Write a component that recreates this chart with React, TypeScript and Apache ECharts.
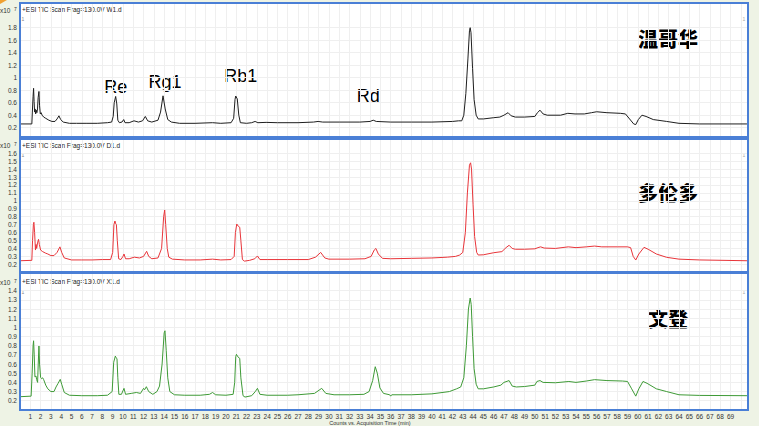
import React, { useEffect, useRef } from "react";
import * as echarts from "echarts";

// ---- data (time in min, counts x10^7) ----
const W1: [number, number][] = [
  [0, 0.26], [1.15, 0.26], [1.2, 0.45], [1.27, 0.7], [1.32, 0.83], [1.37, 0.62], [1.42, 0.45], [1.47, 0.5], [1.52, 0.42], [1.58, 0.48], [1.64, 0.44], [1.7, 0.5], [1.76, 0.68], [1.84, 0.78], [1.9, 0.55], [1.97, 0.42], [2.05, 0.44], [2.15, 0.4], [2.3, 0.37], [2.5, 0.35], [2.8, 0.32], [3.1, 0.3], [3.4, 0.3], [3.6, 0.34], [3.78, 0.39], [3.95, 0.33], [4.2, 0.29], [4.8, 0.27], [5.5, 0.27], [6.5, 0.27], [7.5, 0.27], [8.5, 0.28], [8.9, 0.29], [9.05, 0.38], [9.15, 0.6], [9.29, 0.7], [9.4, 0.58], [9.5, 0.32], [9.65, 0.28], [9.9, 0.29], [10.07, 0.33], [10.2, 0.28], [10.6, 0.28], [11.07, 0.31], [11.5, 0.29], [11.9, 0.31], [12.17, 0.38], [12.4, 0.31], [12.8, 0.29], [13.4, 0.32], [13.65, 0.45], [13.89, 0.71], [14.1, 0.5], [14.35, 0.33], [14.7, 0.29], [15.5, 0.27], [17, 0.27], [18.7, 0.28], [19.5, 0.27], [20.5, 0.28], [20.75, 0.35], [20.88, 0.65], [20.95, 0.707], [21.1, 0.66], [21.25, 0.4], [21.4, 0.28], [22, 0.27], [22.5, 0.28], [22.83, 0.3], [23.1, 0.28], [23.9, 0.285], [25, 0.28], [27, 0.28], [28.5, 0.29], [28.95, 0.3], [29.4, 0.29], [31, 0.29], [33, 0.29], [34.0, 0.3], [34.3, 0.32], [34.6, 0.3], [36, 0.29], [38, 0.29], [40, 0.29], [42, 0.3], [42.6, 0.31], [42.9, 0.31], [43.1, 0.4], [43.3, 0.75], [43.5, 1.3], [43.65, 1.75], [43.72, 1.8], [43.8, 1.72], [43.95, 1.15], [44.1, 0.65], [44.3, 0.4], [44.5, 0.34], [45, 0.34], [46, 0.36], [46.6, 0.37], [47.0, 0.4], [47.4, 0.44], [47.7, 0.39], [48.1, 0.37], [49, 0.37], [50, 0.38], [50.25, 0.44], [50.5, 0.48], [50.8, 0.42], [51.2, 0.4], [52.5, 0.4], [53.2, 0.43], [53.9, 0.42], [54.8, 0.42], [55.5, 0.44], [56, 0.455], [57, 0.44], [58.3, 0.43], [58.8, 0.42], [59.2, 0.34], [59.6, 0.26], [59.8, 0.25], [60.05, 0.33], [60.4, 0.4], [60.8, 0.38], [61.5, 0.33], [62.8, 0.3], [64, 0.27], [66, 0.26], [70.6, 0.26],
];

const D1: [number, number][] = [
  [0, 0.245], [1.15, 0.25], [1.22, 0.5], [1.3, 0.7], [1.35, 0.73], [1.42, 0.6], [1.5, 0.38], [1.56, 0.45], [1.62, 0.4], [1.7, 0.47], [1.8, 0.515], [1.88, 0.45], [2.0, 0.38], [2.2, 0.36], [2.5, 0.34], [2.7, 0.33], [3.0, 0.31], [3.3, 0.31], [3.6, 0.35], [3.88, 0.42], [4.05, 0.35], [4.3, 0.28], [5, 0.255], [6, 0.255], [7, 0.255], [8, 0.26], [8.8, 0.26], [9.0, 0.35], [9.12, 0.7], [9.22, 0.746], [9.3, 0.71], [9.36, 0.7], [9.45, 0.5], [9.58, 0.27], [9.8, 0.26], [10.0, 0.3], [10.1, 0.33], [10.25, 0.27], [10.6, 0.27], [11.1, 0.29], [11.6, 0.28], [12.0, 0.3], [12.3, 0.364], [12.5, 0.3], [12.8, 0.27], [13.4, 0.28], [13.75, 0.4], [13.95, 0.8], [14.05, 0.885], [14.15, 0.7], [14.3, 0.4], [14.45, 0.29], [14.8, 0.265], [16, 0.255], [17.5, 0.255], [18.7, 0.265], [19.5, 0.255], [20.5, 0.26], [20.8, 0.3], [20.92, 0.6], [21.05, 0.708], [21.2, 0.68], [21.34, 0.667], [21.45, 0.5], [21.6, 0.26], [21.8, 0.24], [22.3, 0.25], [22.8, 0.27], [23.06, 0.305], [23.3, 0.26], [24, 0.26], [26, 0.26], [28, 0.26], [28.7, 0.29], [29.2, 0.35], [29.6, 0.28], [30, 0.265], [32, 0.265], [33.5, 0.27], [34.1, 0.3], [34.4, 0.38], [34.56, 0.4], [34.8, 0.33], [35.2, 0.275], [36, 0.27], [38, 0.275], [40, 0.28], [41.5, 0.29], [42.3, 0.3], [42.7, 0.317], [43.0, 0.35], [43.25, 0.6], [43.45, 1.1], [43.65, 1.45], [43.76, 1.48], [43.85, 1.4], [44.0, 0.95], [44.15, 0.55], [44.35, 0.35], [44.5, 0.317], [45, 0.32], [46, 0.346], [46.8, 0.36], [47.2, 0.41], [47.5, 0.44], [47.8, 0.4], [48.1, 0.39], [49, 0.39], [50, 0.395], [50.3, 0.41], [50.56, 0.42], [50.9, 0.405], [52, 0.4], [53.25, 0.42], [54, 0.41], [55, 0.42], [55.8, 0.43], [56.5, 0.42], [58, 0.42], [59.0, 0.42], [59.3, 0.41], [59.55, 0.3], [59.8, 0.254], [60.1, 0.33], [60.6, 0.414], [61, 0.39], [61.8, 0.33], [62.8, 0.288], [64, 0.265], [66, 0.255], [70.6, 0.245],
];

const X1: [number, number][] = [
  [0, 0.244], [1.08, 0.25], [1.18, 0.5], [1.27, 0.8], [1.32, 0.854], [1.38, 0.7], [1.45, 0.46], [1.55, 0.47], [1.62, 0.43], [1.71, 0.4], [1.77, 0.6], [1.84, 0.797], [1.9, 0.6], [2.0, 0.455], [2.1, 0.44], [2.2, 0.45], [2.3, 0.43], [2.5, 0.37], [2.7, 0.33], [3.0, 0.3], [3.3, 0.3], [3.5, 0.35], [3.7, 0.39], [3.91, 0.433], [4.05, 0.38], [4.3, 0.29], [4.8, 0.26], [6, 0.255], [7.5, 0.255], [8.5, 0.26], [8.95, 0.3], [9.1, 0.62], [9.26, 0.687], [9.32, 0.67], [9.42, 0.66], [9.5, 0.45], [9.6, 0.27], [9.85, 0.27], [10.1, 0.335], [10.25, 0.27], [10.8, 0.28], [11.3, 0.29], [11.7, 0.28], [12.0, 0.335], [12.1, 0.32], [12.27, 0.353], [12.5, 0.3], [12.9, 0.27], [13.3, 0.3], [13.55, 0.36], [13.8, 0.6], [14.0, 0.94], [14.08, 0.963], [14.2, 0.75], [14.35, 0.45], [14.55, 0.3], [15, 0.265], [16, 0.26], [17.5, 0.26], [18.4, 0.27], [18.7, 0.29], [19, 0.265], [20, 0.26], [20.7, 0.27], [20.85, 0.4], [20.95, 0.68], [21.02, 0.706], [21.15, 0.68], [21.34, 0.662], [21.45, 0.45], [21.66, 0.255], [21.85, 0.24], [22.5, 0.255], [22.85, 0.3], [23.06, 0.335], [23.3, 0.27], [24, 0.26], [26, 0.26], [27, 0.265], [28.6, 0.28], [29.3, 0.335], [29.7, 0.28], [30.5, 0.265], [32, 0.265], [33.4, 0.27], [33.9, 0.3], [34.25, 0.42], [34.5, 0.571], [34.7, 0.5], [34.95, 0.34], [35.3, 0.28], [35.9, 0.265], [36, 0.25], [36.1, 0.265], [38, 0.265], [40, 0.275], [41.7, 0.3], [42.4, 0.33], [42.8, 0.35], [43.1, 0.45], [43.35, 0.8], [43.55, 1.2], [43.72, 1.32], [43.82, 1.25], [43.95, 0.9], [44.1, 0.55], [44.3, 0.38], [44.5, 0.33], [45, 0.33], [46, 0.35], [46.7, 0.37], [47.0, 0.4], [47.5, 0.42], [47.8, 0.36], [48.2, 0.35], [49, 0.355], [50, 0.37], [50.2, 0.41], [50.5, 0.42], [50.8, 0.4], [52, 0.396], [53.3, 0.41], [54, 0.4], [55, 0.415], [55.8, 0.43], [57, 0.42], [58.5, 0.415], [59, 0.41], [59.4, 0.33], [59.8, 0.25], [60.1, 0.33], [60.5, 0.41], [60.9, 0.39], [61.8, 0.33], [62.8, 0.3], [64, 0.265], [66, 0.258], [70.6, 0.255],
];

const yTicks1 = [0.2, 0.4, 0.6, 0.8, 1, 1.2, 1.4, 1.6, 1.8];
const yTicks2 = [0.2, 0.3, 0.4, 0.5, 0.6, 0.7, 0.8, 0.9, 1, 1.1, 1.2, 1.3, 1.4, 1.5, 1.6];
const yTicks3 = [0.2, 0.3, 0.4, 0.5, 0.6, 0.7, 0.8, 0.9, 1, 1.1, 1.2, 1.3, 1.4];
const yRanges: [number, number][] = [[0.051, 2.195], [0.103, 1.78], [0.099, 1.593]];
const headers = ["+ESI TIC Scan Frag=130.0V W1.d", "+ESI TIC Scan Frag=130.0V D1.d", "+ESI TIC Scan Frag=130.0V X1.d"];
const sampleNames = ["温哥华", "多伦多", "文登"];
const peakNames = ["Re", "Rg1", "Rb1", "Rd"];
const colors = ["#1e1e1e", "#e8353a", "#3e9a36"];
const xTitle = "Counts vs. Acquisition Time (min)";

const FONT = "'Liberation Sans', Arial, sans-serif";

export default function App() {
  const ref = useRef<HTMLDivElement>(null);
  useEffect(() => {
    if (!ref.current) return;
    const chart = echarts.init(ref.current, undefined, { renderer: "svg" });
    const boxes = [
      { left: 20, top: 3, width: 728, height: 134 },
      { left: 20, top: 139, width: 728, height: 133 },
      { left: 20, top: 273, width: 728, height: 137 },
    ];
    const grids = boxes.map((g) => ({ ...g, show: true, borderWidth: 0, backgroundColor: "#ffffff" }));
    const yTickSets = [yTicks1, yTicks2, yTicks3];
    const xAxes = [0, 1, 2].map((i) => ({
      type: "value",
      gridIndex: i,
      min: 0,
      max: 70.7,
      interval: 1,
      axisLine: { show: false },
      axisTick: { show: false },
      splitLine: { show: true, lineStyle: { color: "#efefef", width: 1 } },
      axisLabel: {
        show: i === 2,
        fontSize: 6.5,
        color: "#333",
        fontFamily: FONT,
        margin: 3,
        showMinLabel: false,
        showMaxLabel: false,
        formatter: (v: number) => (v >= 1 && v <= 69 ? String(v) : ""),
      },
    }));
    const yAxes = [0, 1, 2].map((i) => ({
      type: "value",
      gridIndex: i,
      min: yRanges[i][0],
      max: yRanges[i][1],
      axisLine: { show: false },
      axisTick: { show: false, customValues: yTickSets[i] },
      splitLine: { show: true, lineStyle: { color: "#efefef", width: 1 } },
      axisLabel: {
        customValues: yTickSets[i],
        fontSize: 6.5,
        color: "#333",
        fontFamily: FONT,
        margin: 3,
        formatter: (v: number) => String(Math.round(v * 10) / 10),
      },
    }));
    const seriesData = [W1, D1, X1];
    const series = seriesData.map((d, i) => ({
      type: "line",
      xAxisIndex: i,
      yAxisIndex: i,
      data: d,
      showSymbol: false,
      symbol: "none",
      lineStyle: { color: colors[i], width: 1 },
      itemStyle: { color: colors[i] },
    }));

    const headerY = [9, 145, 281.5];
    const sampleY = [38.3, 192.2, 318];
    const expY = [10, 145.7, 282.3];
    const oneY = [19, 155, 291.5];
    const graphic: any[] = [
      { type: "polygon", shape: { points: [[0, 0], [7, 0], [0, 4]] }, style: { fill: "#f0a030" } },
    ];
    boxes.forEach((b) => {
      graphic.push({
        type: "rect", z: 100, silent: true,
        shape: { x: b.left, y: b.top, width: b.width, height: b.height },
        style: { fill: "none", stroke: "#4a7fd6", lineWidth: 2 },
      });
    });
    for (let i = 0; i < 3; i++) {
      graphic.push({
        type: "text", x: 22, y: headerY[i],
        style: { text: headers[i], fontSize: 6.5, fill: "#222", fontFamily: FONT, verticalAlign: "middle", align: "left" },
      });
      graphic.push({
        type: "text", x: 668, y: sampleY[i],
        style: { text: sampleNames[i], fontSize: 20, fontWeight: 900, fill: "#000", fontFamily: "'Noto Sans CJK SC', sans-serif", verticalAlign: "middle", align: "center" },
      });
      graphic.push({
        type: "text", x: 0, y: expY[i],
        style: { text: "x10", fontSize: 6.5, fill: "#333", fontFamily: FONT, verticalAlign: "middle", align: "left" },
      });
      graphic.push({
        type: "text", x: 14, y: expY[i] - 1.5,
        style: { text: "7", fontSize: 5, fill: "#333", fontFamily: FONT, verticalAlign: "middle", align: "left" },
      });
      graphic.push({
        type: "text", x: 23, y: oneY[i],
        style: { text: "1", fontSize: 5, fill: "#888", fontFamily: FONT, verticalAlign: "middle", align: "center" },
      });
      graphic.push({
        type: "text", x: 744, y: oneY[i],
        style: { text: "1", fontSize: 5, fill: "#aaa", fontFamily: FONT, verticalAlign: "middle", align: "center" },
      });
    }
    const peakPos = [[115.8, 87.3], [165, 81.7], [240.8, 75.5], [368.3, 95.8]];
    peakNames.forEach((n, k) => {
      graphic.push({
        type: "text", x: peakPos[k][0], y: peakPos[k][1],
        style: { text: n, fontSize: 18, fill: "#000", fontFamily: FONT, verticalAlign: "middle", align: "center" },
      });
    });
    graphic.push({
      type: "text", x: 370, y: 422.5,
      style: { text: xTitle, fontSize: 5.5, fill: "#333", fontFamily: FONT, verticalAlign: "middle", align: "center" },
    });

    chart.setOption({
      animation: false,
      backgroundColor: "#eef3e5",
      grid: grids,
      xAxis: xAxes,
      yAxis: yAxes,
      series,
      graphic,
    });
    return () => chart.dispose();
  }, []);
  return <div ref={ref} style={{ position: "fixed", left: 0, top: 0, width: 759, height: 426 }} />;
}
